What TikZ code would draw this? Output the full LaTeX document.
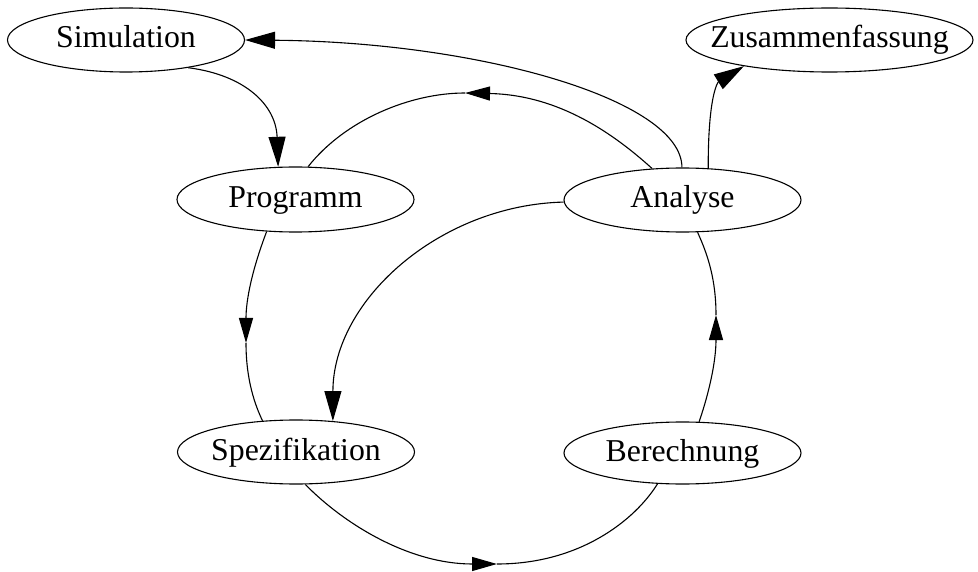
\documentclass[tikz,border=0pt]{standalone}
\usepackage{fontspec}
\setmainfont{Liberation Serif}
\usetikzlibrary{shapes.geometric,arrows.meta}

\tikzset{
  lbl/.style={font=\fontsize{31.8}{36}\selectfont, text height=22pt, text depth=6pt, inner sep=0pt},
  state/.style={draw, ellipse, line width=1.1pt, inner sep=0pt,
    minimum width=237pt, minimum height=64pt, label={[lbl]center:#1}},
  conn/.style={line width=1.1pt},
  endarrow/.style={conn, -{Triangle[length=30pt,width=17pt]}},
  midarrow/.style={conn, -{Triangle[length=25pt,width=14pt]}}
}

\begin{document}
\begin{tikzpicture}[x=1pt, y=-1pt]
  \useasboundingbox (0,0) rectangle (978,572);

  % states
  \node[state=Simulation] (sim) at (126,40) {};
  \node[state=Zusammenfassung, minimum width=287pt] (zus) at (829.5,40) {};
  \node[state=Programm, minimum height=65pt] (prog) at (295.5,199.5) {};
  \node[state=Analyse] (ana) at (682.5,200) {};
  \node[state=Spezifikation] (spez) at (296,452) {};
  \node[state=Berechnung, minimum height=62pt] (ber) at (682.5,453) {};

  % points where the middle arrowheads sit
  \coordinate (m1) at (465,93);
  \coordinate (m2) at (246,343);
  \coordinate (m3) at (497,564);
  \coordinate (m4) at (716,315);

  % Analyse -> Simulation
  \draw[endarrow] (ana.91) .. controls (682,100) and (480,42) .. (sim.east);
  % Simulation -> Programm
  \draw[endarrow] (sim.-24) .. controls (245,75) and (276,105) .. (prog.118);
  % Analyse -> Zusammenfassung
  \draw[endarrow] (ana.51) .. controls (708,95) and (718,82) .. (zus.197);
  % Analyse -> Spezifikation
  \draw[endarrow] (ana.181) .. controls (440,205) and (333,300) .. (spez.40);

  % Analyse -> Programm
  \draw[midarrow] (ana.134) .. controls (615,135) and (560,95) .. (m1);
  \draw[conn] (m1) .. controls (410,93) and (345,120) .. (prog.69);
  % Programm -> Spezifikation
  \draw[midarrow] (prog.228) .. controls (252,270) and (246,300) .. (m2);
  \draw[conn] (m2) .. controls (246,380) and (255,405) .. (spez.137);
  % Spezifikation -> Berechnung
  \draw[midarrow] (spez.-74) .. controls (345,525) and (410,564) .. (m3);
  \draw[conn] (m3) .. controls (580,564) and (635,520) .. (ber.231);
  % Berechnung -> Analyse
  \draw[midarrow] (ber.62) .. controls (710,390) and (716,360) .. (m4);
  \draw[conn] (m4) .. controls (716,280) and (708,255) .. (ana.-65);
\end{tikzpicture}
\end{document}
